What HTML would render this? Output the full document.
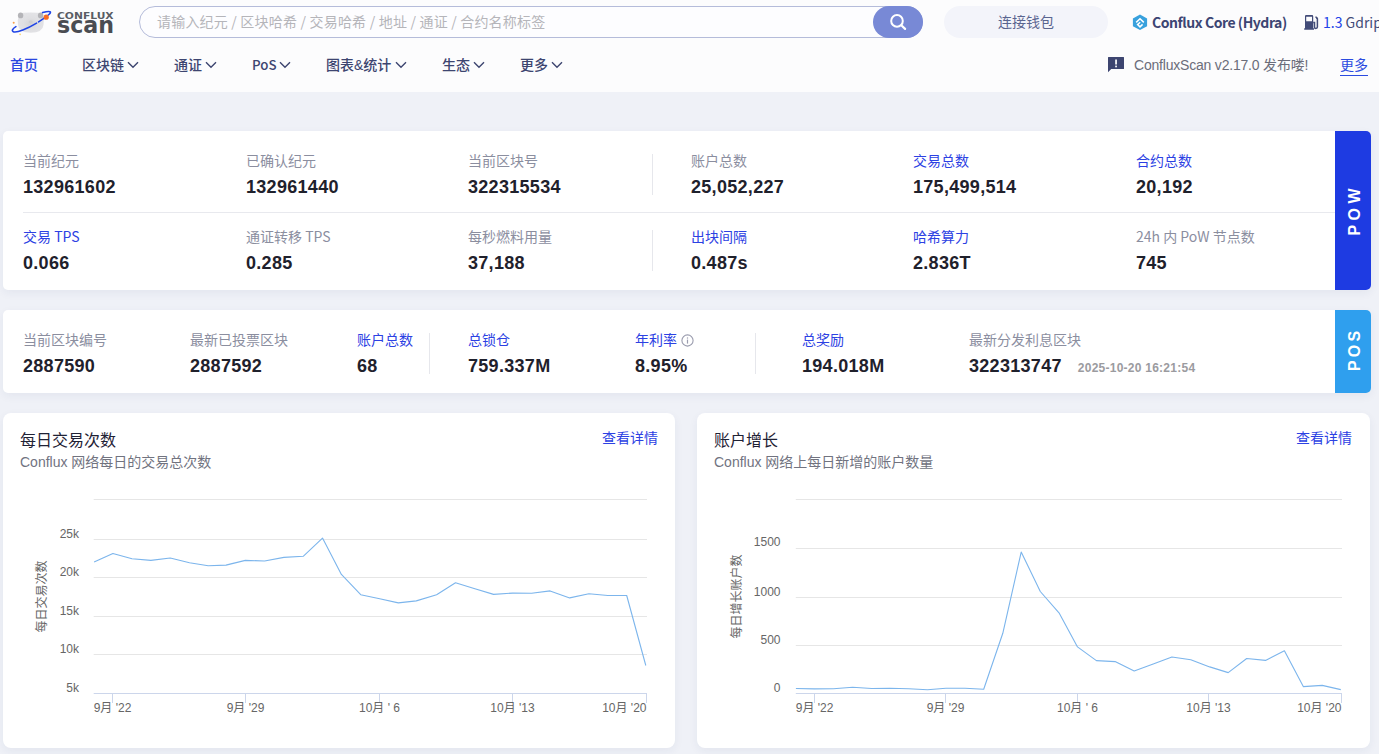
<!DOCTYPE html>
<html lang="zh-CN">
<head>
<meta charset="utf-8">
<title>ConfluxScan</title>
<style>
*{box-sizing:border-box;margin:0;padding:0}
html,body{width:1379px;height:754px;overflow:hidden}
body{background:#eff1f7;font-family:"Liberation Sans","Noto Sans CJK SC",sans-serif;position:relative;color:#1c1e2b}
.abs{position:absolute;white-space:nowrap}
#hdr{position:absolute;left:0;top:0;width:1379px;height:92px;background:#fcfcfd}
.cjk{font-family:"Noto Sans CJK SC","Liberation Sans",sans-serif}
.search{position:absolute;left:139px;top:6px;width:784px;height:32px;border:1px solid #b5bcda;border-radius:16px;background:#fdfdff}
.search .ph{position:absolute;left:17px;top:-1px;line-height:30px;font-size:14px;color:#b5b5ba;letter-spacing:0.2px}
.sbtn{position:absolute;left:873px;top:6px;width:50px;height:32px;border-radius:16px;background:#7889d6}
.wallet{position:absolute;left:944px;top:6px;width:164px;height:32px;border-radius:16px;background:#f3f4fa;font-size:14px;color:#5a6590;text-align:center;line-height:30px}
.nav{position:absolute;top:55px;font-size:14px;color:#3d4570;line-height:20px;font-weight:500;white-space:nowrap}
.card{position:absolute;background:#fff;box-shadow:0 3px 10px rgba(40,50,110,0.06)}
.lbl{position:absolute;font-size:14px;line-height:20px;color:#8b8e9f;white-space:nowrap}
.lbl.b{color:#2c41e3}
.val{position:absolute;font-size:18px;line-height:22px;font-weight:bold;color:#1f212c;white-space:nowrap;letter-spacing:0.3px}
.tab{position:absolute;color:#fff;font-weight:bold;font-size:16px;line-height:16px;letter-spacing:4.5px;padding-left:4.5px}
.vline{position:absolute;width:1px;background:#e6e7ec}
.ct{position:absolute;font-size:16px;line-height:22px;color:#1f2235}
.cs{position:absolute;font-size:14px;line-height:20px;color:#71737f}
.more{position:absolute;font-size:14px;line-height:20px;color:#2c41e3}
</style>
</head>
<body>
<div id="hdr">
  <!-- logo -->
  <svg class="abs" style="left:8px;top:6px" width="50" height="32" viewBox="8 6 50 32">
    <defs>
      <radialGradient id="bear" cx="0.5" cy="0.55" r="0.6">
        <stop offset="0" stop-color="#d3d3d6"/>
        <stop offset="0.45" stop-color="#dfdfe2"/>
        <stop offset="1" stop-color="#e4e4e7"/>
      </radialGradient>
      <filter id="blur1" x="-20%" y="-20%" width="140%" height="140%"><feGaussianBlur stdDeviation="0.6"/></filter>
    </defs>
    <g filter="url(#blur1)">
      <path d="M19 15.5 Q20 12.6 24 12.8 Q30.7 12 37.5 12.8 Q42 12.6 43 15.5 Q44.2 19 43.6 24.5 Q43 32.5 30.7 32.8 Q18.6 32.5 17.9 24.5 Q17.4 19 19 15.5 Z" fill="url(#bear)"/>
      <ellipse cx="20.6" cy="15.4" rx="2.7" ry="2.9" fill="#b4b4b8"/>
      <ellipse cx="40.6" cy="15.4" rx="2.7" ry="2.9" fill="#b4b4b8"/>
      <ellipse cx="30.7" cy="21.8" rx="2" ry="1.5" fill="#cfcfd2"/>
    </g>
    <path d="M15.9 26.6 C12.5 28.6 11.4 30.9 13.3 31.7 C16.8 33.1 27.5 28.6 36.6 23.1" fill="none" stroke="#1f44e6" stroke-width="1.6" stroke-linecap="round"/>
    <path d="M38.6 21.8 L44.2 18.2" fill="none" stroke="#1f44e6" stroke-width="1.6" stroke-linecap="round"/>
    <path d="M44 18.3 C48.5 15.2 51.2 12.8 50.3 11.9 C49.5 11.1 46 11.7 42.6 12.6" fill="none" stroke="#1f44e6" stroke-width="1.6" stroke-linecap="round"/>
    <circle cx="46.2" cy="17.2" r="2.6" fill="#f86a22"/>
    <circle cx="13.7" cy="22.8" r="1" fill="#f7a04a"/>
    <circle cx="20.1" cy="34.4" r="0.8" fill="#f7d06a"/>
  </svg>
  <svg class="abs" style="left:56px;top:10px" width="60" height="26" viewBox="56 10 60 26">
    <text x="57" y="18.8" font-family="DejaVu Sans" font-weight="bold" font-size="9.2" fill="#5a5d64" textLength="56.6" lengthAdjust="spacingAndGlyphs">CONFLUX</text>
    <text x="57" y="33.4" font-family="DejaVu Sans" font-weight="bold" font-size="23.5" fill="#4a4c52" textLength="57" lengthAdjust="spacingAndGlyphs">scan</text>
  </svg>
  <!-- search -->
  <div class="search"><span class="ph cjk">请输入纪元 / 区块哈希 / 交易哈希 / 地址 / 通证 / 合约名称标签</span></div>
  <div class="sbtn">
    <svg class="abs" style="left:0;top:0" width="50" height="32" viewBox="873 6 50 32">
      <circle cx="897" cy="20.9" r="5.8" fill="none" stroke="#fff" stroke-width="2"/>
      <path d="M901.3 25.2 L905.1 28.9" stroke="#fff" stroke-width="2.2" stroke-linecap="round"/>
    </svg>
  </div>
  <div class="wallet cjk">连接钱包</div>
  <!-- network -->
  <svg class="abs" style="left:1132px;top:14px" width="16" height="17" viewBox="1132 14 16 17">
    <path d="M1140 14.6 L1147.1 18.5 L1147.1 26.2 L1140 30.1 L1132.9 26.2 L1132.9 18.5 Z" fill="#38a1dd"/>
    <path d="M1136.2 22.4 L1140 18.7 L1143.8 22.4" fill="none" stroke="#fff" stroke-width="1.5"/>
    <path d="M1142.6 24.4 L1140 26.9 L1137.6 24.6 L1140.2 22.2" fill="none" stroke="#fff" stroke-width="1.5"/>
  </svg>
  <div class="abs cjk" style="left:1152px;top:12px;font-size:14px;line-height:20px;font-weight:700;color:#3c4573;letter-spacing:-0.45px">Conflux Core (Hydra)</div>
  <svg class="abs" style="left:1304px;top:14px" width="16" height="17" viewBox="1304 14 16 17">
    <path d="M1305 16.2 Q1305 15.1 1306.1 15.1 L1312.1 15.1 Q1313.2 15.1 1313.2 16.2 L1313.2 28.2 L1314 28.2 L1314 29.7 L1304.2 29.7 L1304.2 28.2 L1305 28.2 Z M1306.2 16.8 L1306.2 21.2 L1312 21.2 L1312 16.8 Z" fill="#424b78" fill-rule="evenodd"/>
    <path d="M1313.2 22.4 L1314.5 22.4 L1314.5 27.3 Q1314.5 28.4 1315.8 28.4 Q1317.4 28.4 1317.4 27 L1317.4 18.8 L1315.6 16.6" fill="none" stroke="#424b78" stroke-width="1.5"/><path d="M1316.2 18.5 L1317.9 17.2 L1317.9 20 Z" fill="#424b78"/>
  </svg>
  <div class="abs cjk" style="left:1323px;top:12px;font-size:14px;line-height:20px;color:#424b78"><span style="color:#2143e8">1.3</span> Gdrip</div>

  <!-- nav -->
  <div class="nav" style="left:10px;color:#2a47e0">首页</div>
  <div class="nav" style="left:82px">区块链</div>
  <svg class="abs" style="left:127px;top:61px" width="12" height="8" viewBox="0 0 12 8"><path d="M1 1.2 L6 6.2 L11 1.2" fill="none" stroke="#3d4570" stroke-width="1.4"/></svg>
  <div class="nav" style="left:174px">通证</div>
  <svg class="abs" style="left:205px;top:61px" width="12" height="8" viewBox="0 0 12 8"><path d="M1 1.2 L6 6.2 L11 1.2" fill="none" stroke="#3d4570" stroke-width="1.4"/></svg>
  <div class="nav cjk" style="left:252px;font-size:13.3px">PoS</div>
  <svg class="abs" style="left:279px;top:61px" width="12" height="8" viewBox="0 0 12 8"><path d="M1 1.2 L6 6.2 L11 1.2" fill="none" stroke="#3d4570" stroke-width="1.4"/></svg>
  <div class="nav" style="left:326px">图表&amp;统计</div>
  <svg class="abs" style="left:395px;top:61px" width="12" height="8" viewBox="0 0 12 8"><path d="M1 1.2 L6 6.2 L11 1.2" fill="none" stroke="#3d4570" stroke-width="1.4"/></svg>
  <div class="nav" style="left:442px">生态</div>
  <svg class="abs" style="left:473px;top:61px" width="12" height="8" viewBox="0 0 12 8"><path d="M1 1.2 L6 6.2 L11 1.2" fill="none" stroke="#3d4570" stroke-width="1.4"/></svg>
  <div class="nav" style="left:520px">更多</div>
  <svg class="abs" style="left:551px;top:61px" width="12" height="8" viewBox="0 0 12 8"><path d="M1 1.2 L6 6.2 L11 1.2" fill="none" stroke="#3d4570" stroke-width="1.4"/></svg>

  <svg class="abs" style="left:1108px;top:57px" width="16" height="16" viewBox="0 0 16 16">
    <path d="M0 0.5 Q0 0 0.5 0 L15.5 0 Q16 0 16 0.5 L16 11.5 Q16 12 15.5 12 L3.2 12 L0 15.3 Z" fill="#3d4570"/>
    <rect x="7.2" y="2.5" width="1.7" height="5" fill="#fff"/>
    <rect x="7.2" y="8.6" width="1.7" height="1.7" fill="#fff"/>
  </svg>
  <div class="abs" style="left:1134px;top:55px;font-size:14px;line-height:20px;color:#6b6d7a;letter-spacing:-0.2px">ConfluxScan v2.17.0 发布喽!</div>
  <div class="abs cjk" style="left:1340px;top:54px;font-size:14px;line-height:20px;color:#2b4be0;border-bottom:1.5px solid #2b4be0;padding-bottom:1px">更多</div>
</div>

<!-- POW card -->
<div class="card" style="left:3px;top:131px;width:1368px;height:159px;border-radius:5px"></div>
<div class="abs" style="left:1335px;top:131px;width:36px;height:159px;background:#1e3be2;border-radius:0 5px 5px 0"></div>
<div class="tab" style="left:1354.5px;top:211.5px;transform:translate(-50%,-50%) rotate(-90deg)">POW</div>
<div class="abs" style="left:23px;top:212px;width:1312px;height:1px;background:#e8e9ee"></div>
<div class="vline" style="left:652px;top:154px;height:41px"></div>
<div class="vline" style="left:652px;top:230px;height:41px"></div>

<div class="lbl cjk" style="left:23px;top:150px">当前纪元</div>
<div class="val" style="left:23px;top:176px">132961602</div>
<div class="lbl cjk" style="left:246px;top:150px">已确认纪元</div>
<div class="val" style="left:246px;top:176px">132961440</div>
<div class="lbl cjk" style="left:468px;top:150px">当前区块号</div>
<div class="val" style="left:468px;top:176px">322315534</div>
<div class="lbl cjk" style="left:691px;top:150px">账户总数</div>
<div class="val" style="left:691px;top:176px">25,052,227</div>
<div class="lbl b cjk" style="left:913px;top:150px">交易总数</div>
<div class="val" style="left:913px;top:176px">175,499,514</div>
<div class="lbl b cjk" style="left:1136px;top:150px">合约总数</div>
<div class="val" style="left:1136px;top:176px">20,192</div>

<div class="lbl b cjk" style="left:23px;top:226px">交易 TPS</div>
<div class="val" style="left:23px;top:252px">0.066</div>
<div class="lbl cjk" style="left:246px;top:226px">通证转移 TPS</div>
<div class="val" style="left:246px;top:252px">0.285</div>
<div class="lbl cjk" style="left:468px;top:226px">每秒燃料用量</div>
<div class="val" style="left:468px;top:252px">37,188</div>
<div class="lbl b cjk" style="left:691px;top:226px">出块间隔</div>
<div class="val" style="left:691px;top:252px">0.487s</div>
<div class="lbl b cjk" style="left:913px;top:226px">哈希算力</div>
<div class="val" style="left:913px;top:252px">2.836T</div>
<div class="lbl cjk" style="left:1136px;top:226px">24h 内 PoW 节点数</div>
<div class="val" style="left:1136px;top:252px">745</div>

<!-- POS card -->
<div class="card" style="left:3px;top:310px;width:1368px;height:83px;border-radius:5px"></div>
<div class="abs" style="left:1335px;top:310px;width:36px;height:83px;background:#2f9fee;border-radius:0 5px 5px 0"></div>
<div class="tab" style="left:1354.5px;top:351px;letter-spacing:3.2px;padding-left:3.2px;transform:translate(-50%,-50%) rotate(-90deg)">POS</div>
<div class="vline" style="left:429px;top:333px;height:41px"></div>
<div class="vline" style="left:755px;top:333px;height:41px"></div>

<div class="lbl cjk" style="left:23px;top:329px">当前区块编号</div>
<div class="val" style="left:23px;top:355px">2887590</div>
<div class="lbl cjk" style="left:190px;top:329px">最新已投票区块</div>
<div class="val" style="left:190px;top:355px">2887592</div>
<div class="lbl b cjk" style="left:357px;top:329px">账户总数</div>
<div class="val" style="left:357px;top:355px">68</div>
<div class="lbl b cjk" style="left:468px;top:329px">总锁仓</div>
<div class="val" style="left:468px;top:355px">759.337M</div>
<div class="lbl b cjk" style="left:635px;top:329px">年利率</div>
<svg class="abs" style="left:681px;top:334px" width="14" height="14" viewBox="0 0 14 14"><circle cx="6.5" cy="6.5" r="5.6" fill="none" stroke="#9a9cae" stroke-width="1.1"/><rect x="5.9" y="5.6" width="1.2" height="4" fill="#9a9cae"/><rect x="5.9" y="3.4" width="1.2" height="1.2" fill="#9a9cae"/></svg>
<div class="val" style="left:635px;top:355px">8.95%</div>
<div class="lbl b cjk" style="left:802px;top:329px">总奖励</div>
<div class="val" style="left:802px;top:355px">194.018M</div>
<div class="lbl cjk" style="left:969px;top:329px">最新分发利息区块</div>
<div class="val" style="left:969px;top:355px">322313747<span style="font-size:12px;color:#9b9b9f;margin-left:16px;letter-spacing:0.25px">2025-10-20 16:21:54</span></div>

<!-- CHARTS -->
<div class="card" style="left:3px;top:413px;width:672px;height:335px;border-radius:8px"></div>
<div class="card" style="left:697px;top:413px;width:673px;height:335px;border-radius:8px"></div>

<div class="ct cjk" style="left:20px;top:427.5px">每日交易次数</div>
<div class="cs" style="left:20px;top:452px">Conflux 网络每日的交易总次数</div>
<div class="more cjk" style="left:602px;top:427px">查看详情</div>

<div class="ct cjk" style="left:714px;top:427.5px">账户增长</div>
<div class="cs" style="left:714px;top:452px">Conflux 网络上每日新增的账户数量</div>
<div class="more cjk" style="left:1296px;top:427px">查看详情</div>

<!--CHART1-->
<svg class="abs" style="left:0;top:0" width="1379" height="754" viewBox="0 0 1379 754">
<path d="M93.7 499.5 H647.0" stroke="#e6e6e6" stroke-width="1"/>
<path d="M93.7 539.5 H647.0" stroke="#e6e6e6" stroke-width="1"/>
<path d="M93.7 577.5 H647.0" stroke="#e6e6e6" stroke-width="1"/>
<path d="M93.7 616.5 H647.0" stroke="#e6e6e6" stroke-width="1"/>
<path d="M93.7 654.5 H647.0" stroke="#e6e6e6" stroke-width="1"/>
<path d="M93.7 693.5 H647.0" stroke="#ccd6eb" stroke-width="1"/>
<path d="M112.5 693.0 V703.0" stroke="#ccd6eb" stroke-width="1"/>
<path d="M245.5 693.0 V703.0" stroke="#ccd6eb" stroke-width="1"/>
<path d="M379.5 693.0 V703.0" stroke="#ccd6eb" stroke-width="1"/>
<path d="M512.5 693.0 V703.0" stroke="#ccd6eb" stroke-width="1"/>
<path d="M646.5 693.0 V703.0" stroke="#ccd6eb" stroke-width="1"/>
<text x="93.7" y="712" text-anchor="start" font-size="12" fill="#666">9月 '22</text>
<text x="245.5" y="712" text-anchor="middle" font-size="12" fill="#666">9月 '29</text>
<text x="379.5" y="712" text-anchor="middle" font-size="12" fill="#666">10月 ' 6</text>
<text x="512.5" y="712" text-anchor="middle" font-size="12" fill="#666">10月 '13</text>
<text x="646.5" y="712" text-anchor="end" font-size="12" fill="#666">10月 '20</text>
<text x="79" y="537.5" text-anchor="end" font-size="12" fill="#666">25k</text>
<text x="79" y="576.0" text-anchor="end" font-size="12" fill="#666">20k</text>
<text x="79" y="614.8" text-anchor="end" font-size="12" fill="#666">15k</text>
<text x="79" y="653.0" text-anchor="end" font-size="12" fill="#666">10k</text>
<text x="79" y="691.8" text-anchor="end" font-size="12" fill="#666">5k</text>
<text x="0" y="0" transform="translate(46,596.5) rotate(-90)" text-anchor="middle" font-size="12" fill="#666">每日交易次数</text>
<polyline points="94.1,562.0 112.9,553.5 132.0,558.8 150.9,560.4 170.2,558.0 189.5,562.8 208.2,565.7 226.0,565.1 245.3,560.4 264.6,561.0 283.9,557.4 303.2,556.3 322.5,538.1 341.4,574.4 360.7,594.7 379.7,598.7 398.3,602.9 416.3,600.9 436.6,594.8 455.5,582.8 474.9,588.7 493.6,594.4 512.7,593.1 531.6,593.3 550.1,590.9 569.7,597.9 588.9,593.7 607.8,595.5 626.7,595.5 645.8,665.5" fill="none" stroke="#7cb5ec" stroke-width="1.1" stroke-linejoin="round"/>
</svg>
<!--/CHART1-->
<!--CHART2-->
<svg class="abs" style="left:0;top:0" width="1379" height="754" viewBox="0 0 1379 754">
<path d="M795.8 499.5 H1342.0" stroke="#e6e6e6" stroke-width="1"/>
<path d="M795.8 548.5 H1342.0" stroke="#e6e6e6" stroke-width="1"/>
<path d="M795.8 597.5 H1342.0" stroke="#e6e6e6" stroke-width="1"/>
<path d="M795.8 645.5 H1342.0" stroke="#e6e6e6" stroke-width="1"/>
<path d="M795.8 693.5 H1342.0" stroke="#ccd6eb" stroke-width="1"/>
<path d="M814.5 693.0 V703.0" stroke="#ccd6eb" stroke-width="1"/>
<path d="M945.5 693.0 V703.0" stroke="#ccd6eb" stroke-width="1"/>
<path d="M1077.5 693.0 V703.0" stroke="#ccd6eb" stroke-width="1"/>
<path d="M1208.5 693.0 V703.0" stroke="#ccd6eb" stroke-width="1"/>
<path d="M1341.5 693.0 V703.0" stroke="#ccd6eb" stroke-width="1"/>
<text x="795.8" y="712" text-anchor="start" font-size="12" fill="#666">9月 '22</text>
<text x="945.5" y="712" text-anchor="middle" font-size="12" fill="#666">9月 '29</text>
<text x="1077.5" y="712" text-anchor="middle" font-size="12" fill="#666">10月 ' 6</text>
<text x="1208.5" y="712" text-anchor="middle" font-size="12" fill="#666">10月 '13</text>
<text x="1341.5" y="712" text-anchor="end" font-size="12" fill="#666">10月 '20</text>
<text x="780.5" y="546.3" text-anchor="end" font-size="12" fill="#666">1500</text>
<text x="780.5" y="595.7" text-anchor="end" font-size="12" fill="#666">1000</text>
<text x="780.5" y="643.5" text-anchor="end" font-size="12" fill="#666">500</text>
<text x="780.5" y="691.8" text-anchor="end" font-size="12" fill="#666">0</text>
<text x="0" y="0" transform="translate(741,596.5) rotate(-90)" text-anchor="middle" font-size="12" fill="#666">每日增长账户数</text>
<polyline points="795.9,688.5 814.4,688.9 833.5,688.7 852.6,687.2 871.7,688.5 889.7,688.3 908.8,688.7 927.5,689.8 945.9,688.3 965.0,688.3 983.7,689.3 1002.8,633.3 1021.2,552.1 1040.3,591.5 1059.0,612.8 1077.5,646.9 1096.4,660.6 1115.1,661.6 1134.2,670.9 1153.2,663.9 1171.9,657.0 1190.8,659.7 1209.7,666.9 1228.2,672.6 1246.7,658.5 1265.5,660.4 1284.4,650.7 1303.3,686.6 1322.2,685.4 1340.8,689.6" fill="none" stroke="#7cb5ec" stroke-width="1.1" stroke-linejoin="round"/>
</svg>
<!--/CHART2-->
</body>
</html>
